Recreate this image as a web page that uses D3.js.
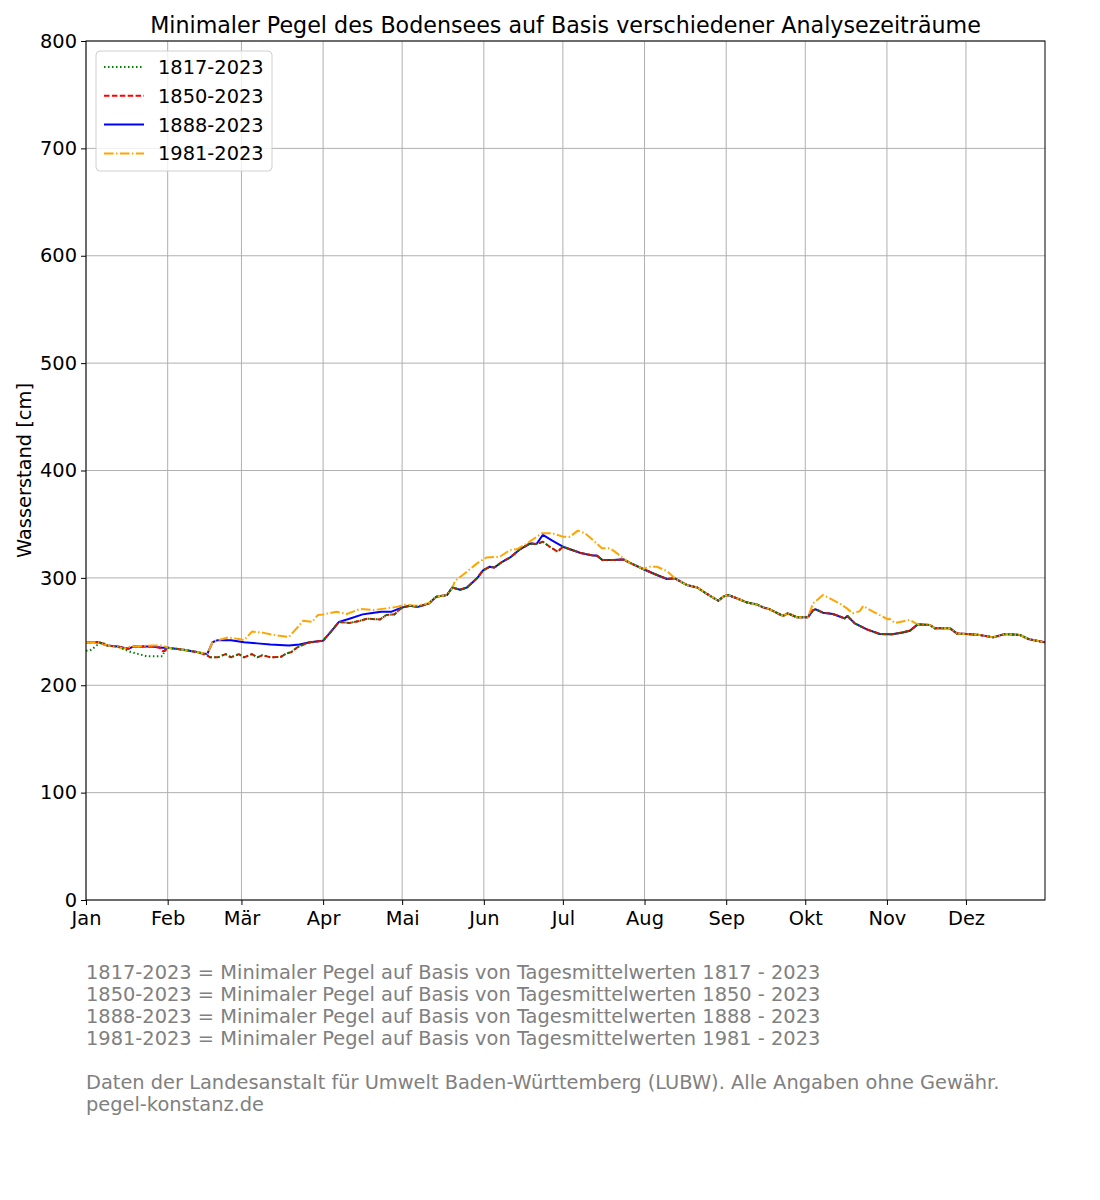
<!DOCTYPE html>
<html><head><meta charset="utf-8">
<script src="https://cdn.jsdelivr.net/npm/d3@7"></script>
<style>body{margin:0;background:#fff;font-family:"DejaVu Sans",sans-serif;}</style>
</head><body><svg id="c" width="1100" height="1200"></svg>
<script>
const title = "Minimaler Pegel des Bodensees auf Basis verschiedener Analysezeiträume";
const yLabel = "Wasserstand [cm]";
const monthLabels = ["Jan","Feb","Mär","Apr","Mai","Jun","Jul","Aug","Sep","Okt","Nov","Dez"];
const monthStarts = [0,31,59,90,120,151,181,212,243,273,304,334];
const yTicks = [0,100,200,300,400,500,600,700,800];
const seriesNames = ["1817-2023","1850-2023","1888-2023","1981-2023"];
const footerLines = [
 "1817-2023 = Minimaler Pegel auf Basis von Tagesmittelwerten 1817 - 2023",
 "1850-2023 = Minimaler Pegel auf Basis von Tagesmittelwerten 1850 - 2023",
 "1888-2023 = Minimaler Pegel auf Basis von Tagesmittelwerten 1888 - 2023",
 "1981-2023 = Minimaler Pegel auf Basis von Tagesmittelwerten 1981 - 2023",
 "",
 "Daten der Landesanstalt für Umwelt Baden-Württemberg (LUBW). Alle Angaben ohne Gewähr.",
 "pegel-konstanz.de"
];

// [day of year, cm]
const s1888 = [[0,240],[5,240],[8,237],[12,236],[16,234],[18,236],[25,236],[29,235],[31,235],[37,233],[42,231],[46,229],[48,240],[50,242],[55,242],[60,240],[65,239],[70,238],[77,237],[81,238],[85,240],[90,241.5],[93,250],[96,259],[100,262],[105,266],[108,267],[112,268.5],[116,268.5],[120,272.5],[123,274],[126,273],[130,276],[133,282.5],[137,284],[139,291],[142,289],[144.6,291],[148.4,299.6],[150.7,307],[153.3,310.4],[155,309.6],[158,315],[161,319],[164.7,326.6],[168.5,332],[171,331.5],[173.4,340],[177,334.6],[181,329],[183.7,326.6],[187.5,323.4],[190,322],[192,321],[194,320.6],[196,316.6],[200,316.6],[204,317.2],[206.5,314],[211.4,308.3],[216.7,302.7],[220.5,299],[223.5,299.6],[228,293.4],[232,291],[235.7,285],[240,278.7],[241.8,282.5],[243.7,284],[247,281],[251,277],[254.6,275.3],[257,272.5],[259.6,270.7],[262.6,267],[264.5,264.5],[266.4,267],[269.8,263.3],[274,263.3],[276,270],[277,270.7],[279.7,267.6],[283.5,266.4],[288,262.3],[289,264.5],[291.8,257.6],[296.4,252],[301.3,247.7],[306,247.4],[310,249.2],[312.7,250.8],[315.7,256.7],[320.3,256.1],[322.2,253],[328,253],[330.5,248.3],[334.3,247.7],[339.3,246.8],[344.2,244.6],[348.8,247.7],[354.5,246.8],[358,242.8],[364,240]];

const s1850 = [[0,240],[5,240],[8,237],[12,236],[16,234],[18,236],[25,236],[28,235],[29,232],[30,232],[31,235],[37,233],[42,231],[46,228],[47,226],[50,226],[53,229],[55,226],[58,229],[60,226],[63,229],[65,226],[67,228],[70,226],[74,226.5],[76,229.5],[78,231],[80,235],[84,239.6],[88,241],[90,241.5],[93,250],[96,259],[100,258],[104,260],[106.6,262],[111.6,261.3],[114,265.4],[117,266],[120,272.5],[123,274],[126,273],[130,276],[133,282.5],[137,284],[139,291],[142,289],[144.6,291],[148.4,299.6],[150.7,307],[153.3,310.4],[155,309.6],[158,315],[161,319],[164.7,326.6],[168.5,332],[171,331.5],[173.4,333.7],[176,329],[179,324.4],[181,329],[183.7,326.6],[187.5,323.4],[190,322],[192,321],[194,320.6],[196,316.6],[200,316.6],[204,317.2],[206.5,314],[211.4,308.3],[216.7,302.7],[220.5,299],[223.5,299.6],[228,293.4],[232,291],[235.7,285],[240,278.7],[241.8,282.5],[243.7,284],[247,281],[251,277],[254.6,275.3],[257,272.5],[259.6,270.7],[262.6,267],[264.5,264.5],[266.4,267],[269.8,263.3],[274,263.3],[276,270],[277,270.7],[279.7,267.6],[283.5,266.4],[288,262.3],[289,264.5],[291.8,257.6],[296.4,252],[301.3,247.7],[306,247.4],[310,249.2],[312.7,250.8],[315.7,256.7],[320.3,256.1],[322.2,253],[328,253],[330.5,248.3],[334.3,247.7],[339.3,246.8],[344.2,244.6],[348.8,247.7],[354.5,246.8],[358,242.8],[364,240]];

const s1817 = [[0,232],[2,233],[4,237],[6,240],[8,237],[12,236],[14,234],[17,231],[20,229],[23,227],[29,227],[30,233],[31,235],[37,233],[42,231],[46,228],[47,226],[50,226],[53,229],[55,226],[58,229],[60,226],[63,229],[65,226],[67,228],[70,226],[74,226.5],[76,229.5],[78,231],[80,235],[84,239.6],[88,241],[90,241.5],[93,250],[96,259],[100,258],[104,260],[106.6,262],[111.6,261.3],[114,265.4],[117,266],[120,272.5],[123,274],[126,273],[130,276],[133,282.5],[137,284],[139,291],[142,289],[144.6,291],[148.4,299.6],[150.7,307],[153.3,310.4],[155,309.6],[158,315],[161,319],[164.7,326.6],[168.5,332],[171,331.5],[173.4,333.7],[176,329],[179,324.4],[181,329],[183.7,326.6],[187.5,323.4],[190,322],[192,321],[194,320.6],[196,316.6],[200,316.6],[204,317.2],[206.5,314],[211.4,308.3],[216.7,302.7],[220.5,299],[223.5,299.6],[228,293.4],[232,291],[235.7,285],[240,278.7],[241.8,282.5],[243.7,284],[247,281],[251,277],[254.6,275.3],[257,272.5],[259.6,270.7],[262.6,267],[264.5,264.5],[266.4,267],[269.8,263.3],[274,263.3],[276,270],[277,270.7],[279.7,267.6],[283.5,266.4],[288,262.3],[289,264.5],[291.8,257.6],[296.4,252],[301.3,247.7],[306,247.4],[310,249.2],[312.7,250.8],[315.7,256.7],[320.3,256.1],[322.2,253],[328,253],[330.5,248.3],[334.3,247.7],[339.3,246.8],[344.2,244.6],[348.8,247.7],[354.5,246.8],[358,242.8],[364,240]];

const s1981 = [[0,240],[5,240],[8,237],[12,236],[14,234],[17,236],[25,237],[29,237],[31,235],[37,233],[42,231],[46,229],[48,240],[50,242],[54,244.5],[58,243],[60,242],[63,250],[67,249],[71,247],[77,245],[80.5,254.5],[82.4,260],[85.8,259],[88,265.4],[90,266],[95,268.5],[99,266.4],[104,271],[109,270],[114,271.6],[118,273],[121,275],[125,274],[130,276.3],[133,282.5],[137,284],[139,290],[140,297],[143,302.7],[148.4,313.5],[152,319],[157,319.6],[161,326],[163.5,326.6],[167,331.5],[173,341.5],[177,341.5],[181,338.4],[183.7,338.4],[186.7,344],[189.4,341.5],[192.4,335.3],[195.8,327.5],[198.9,327.5],[201.5,323],[204.5,317],[206.5,314],[211.4,308.3],[214,310.4],[216.7,310.4],[220.5,306.4],[223.5,299.6],[228,293.4],[232,291],[235.7,285],[240,278.7],[241.8,282.5],[243.7,284],[247,281],[251,277],[254.6,275.3],[257,272.5],[259.6,270.7],[262.6,267],[264.5,264.5],[266.4,267],[269.8,263.3],[274,263.3],[276,276.3],[279.7,284],[282.3,281],[286,276.3],[288.8,271.6],[291,267],[293.7,269],[295,273.8],[298.7,268.5],[302.5,263.8],[304.4,261.3],[305,262],[307,258],[309,259],[312.7,260.8],[315,257.6],[316,256.7],[320.3,256.1],[322.2,253],[328,253],[330.5,248.3],[334.3,247.7],[339.3,246.8],[344.2,244.6],[348.8,247.7],[354.5,246.8],[358,242.8],[364,240]];

const seriesData = [s1817, s1850, s1888, s1981];
const colors = ["green","red","blue","orange"];
const dashes = ["1.5,2.5","5.5,2.4","none","9.6,2.4,1.5,2.4"];
const drawOrder = [2,1,3,0];

const svg = d3.select("#c");
const L=86, R=1045, T=41, B=900;
const FS = 19.4;
const x = d3.scaleLinear().domain([0,364]).range([L,R]);
const y = d3.scaleLinear().domain([0,800]).range([B,T]);

// grid
svg.append("g").selectAll("line").data(monthStarts).join("line")
 .attr("x1",d=>x(d)).attr("x2",d=>x(d)).attr("y1",T).attr("y2",B)
 .attr("stroke","#b0b0b0").attr("stroke-width",1);
svg.append("g").selectAll("line").data(yTicks).join("line")
 .attr("x1",L).attr("x2",R).attr("y1",d=>y(d)).attr("y2",d=>y(d))
 .attr("stroke","#b0b0b0").attr("stroke-width",1);

// axes
const xAxis = d3.axisBottom(x).tickValues(monthStarts).tickFormat((d,i)=>monthLabels[i]).tickSize(5).tickPadding(6);
const gx = svg.append("g").attr("transform",`translate(0,${B})`).call(xAxis);
const yAxis = d3.axisLeft(y).tickValues(yTicks).tickSize(5).tickPadding(4);
const gy = svg.append("g").attr("transform",`translate(${L},0)`).call(yAxis);
[gx,gy].forEach(g=>{
  g.select(".domain").remove();
  g.selectAll("text").attr("font-family","DejaVu Sans").attr("font-size",FS).attr("fill","#000");
  g.selectAll("line").attr("stroke","#000").attr("stroke-width",1);
});

// lines
const line = d3.line().x(d=>x(d[0])).y(d=>y(d[1]));
svg.append("clipPath").attr("id","pc").append("rect").attr("x",L).attr("y",T).attr("width",R-L).attr("height",B-T);
const lg = svg.append("g").attr("clip-path","url(#pc)");
drawOrder.forEach(i=>{
  lg.append("path").datum(seriesData[i]).attr("d",line)
   .attr("fill","none").attr("stroke",colors[i]).attr("stroke-width",2)
   .attr("stroke-dasharray",dashes[i]).attr("stroke-linejoin","round");
});

// frame
svg.append("rect").attr("x",L).attr("y",T).attr("width",R-L).attr("height",B-T)
 .attr("fill","none").attr("stroke","#000").attr("stroke-width",1);

// title
svg.append("text").attr("x",(L+R)/2).attr("y",33).attr("text-anchor","middle")
 .attr("font-family","DejaVu Sans").attr("font-size",22.2).text(title);
// y label
svg.append("text").attr("transform",`translate(31,${(T+B)/2}) rotate(-90)`).attr("text-anchor","middle")
 .attr("font-family","DejaVu Sans").attr("font-size",FS).text(yLabel);

// legend
const leg = svg.append("g");
leg.append("rect").attr("x",96).attr("y",51).attr("width",176).attr("height",120).attr("rx",4)
 .attr("fill","#fff").attr("fill-opacity",0.8).attr("stroke","#d0d0d0");
seriesNames.forEach((n,i)=>{
  const yy = 67 + i*28.8;
  leg.append("line").attr("x1",104).attr("x2",144).attr("y1",yy).attr("y2",yy)
   .attr("stroke",colors[i]).attr("stroke-width",2).attr("stroke-dasharray",dashes[i]);
  leg.append("text").attr("x",158).attr("y",yy+7).attr("font-family","DejaVu Sans").attr("font-size",FS).text(n);
});

// footer
footerLines.forEach((t,i)=>{
  svg.append("text").attr("x",86).attr("y",979+i*22).attr("font-family","DejaVu Sans")
   .attr("font-size",FS).attr("fill","#808080").text(t);
});
</script></body></html>
